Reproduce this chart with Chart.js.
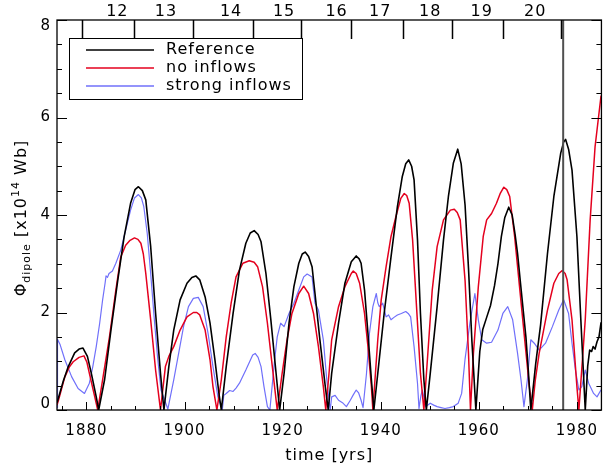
<!DOCTYPE html>
<html>
<head>
<meta charset="utf-8">
<script src="https://cdn.jsdelivr.net/npm/chart.js@4"></script>
<style>
  html, body { margin: 0; padding: 0; background: #fff; overflow: hidden; }
  canvas { display: block; }
</style>
</head>
<body>
<canvas id="fluxChart" width="608" height="472"></canvas>
<script>
// Reference run (black)
const refYears = [1874.0, 1874.3, 1875.3, 1876.3, 1877.6, 1878.5, 1879.3, 1880.2, 1881.0, 1882.0, 1882.5,
  1883.7, 1885.0, 1886.4, 1887.7, 1889.0, 1889.9, 1890.6, 1891.4, 1892.1, 1893.1, 1894.1, 1895.1, 1895.8,
  1896.8, 1897.8, 1899.1, 1900.5, 1901.5, 1902.3, 1903.1, 1904.2, 1905.2, 1906.2, 1907.0, 1907.5,
  1908.5, 1909.9, 1911.2, 1912.5, 1913.4, 1914.2, 1915.0, 1915.6, 1916.6, 1917.6, 1918.6, 1919.4,
  1920.3, 1921.3, 1922.3, 1923.3, 1924.0, 1924.6, 1925.3, 1926.0, 1926.6, 1927.6, 1928.7, 1929.3,
  1930.0, 1931.4, 1932.7, 1934.0, 1935.0, 1935.6, 1936.0, 1936.7, 1937.4, 1938.1, 1938.6,
  1939.4, 1940.7, 1942.1, 1943.4, 1944.4, 1945.1, 1945.7, 1946.3, 1946.8, 1947.5, 1948.1, 1948.8, 1949.3,
  1950.1, 1951.5, 1952.8, 1953.8, 1954.8, 1955.7, 1956.4, 1957.2, 1957.9, 1958.6, 1959.4,
  1960.2, 1960.8, 1961.6, 1962.4, 1963.2, 1963.9, 1964.6, 1965.3, 1966.1, 1966.8, 1967.4, 1967.9, 1968.5, 1969.1, 1969.6, 1970.1, 1970.6,
  1971.6, 1972.6, 1974.0, 1975.3, 1976.7, 1977.3, 1977.7, 1978.3, 1979.0, 1980.0, 1980.8, 1981.7,
  1982.2, 1982.6, 1983.0, 1983.3, 1983.7, 1984.1, 1984.5, 1984.9, 1985.0];
const refValues = [0.15, 0.25, 0.6, 0.89, 1.17, 1.25, 1.27, 1.1, 0.75, 0.27, 0,
  0.62, 1.64, 2.67, 3.56, 4.24, 4.52, 4.58, 4.5, 4.31, 3.35, 1.99, 0.75, 0,
  0.89, 1.64, 2.26, 2.6, 2.72, 2.75, 2.67, 2.32, 1.78, 1.03, 0.35, 0,
  0.89, 1.98, 2.87, 3.42, 3.63, 3.68, 3.6, 3.45, 2.8, 1.85, 0.82, 0,
  0.75, 1.78, 2.53, 3.01, 3.2, 3.24, 3.15, 2.94, 2.39, 1.44, 0.48, 0,
  0.75, 1.78, 2.6, 3.04, 3.16, 3.1, 3.01, 2.46, 1.57, 0.62, 0,
  0.75, 1.98, 3.14, 4.17, 4.79, 5.05, 5.13, 5.0, 4.72, 3.49, 1.98, 0.62, 0,
  0.75, 2.12, 3.49, 4.38, 5.06, 5.35, 5.05, 4.2, 2.9, 1.4, 0,
  1.2, 1.65, 1.9, 2.15, 2.55, 3.0, 3.56, 3.95, 4.16, 4.0, 3.6, 3.21, 2.6, 2.0, 1.5, 0.8, 0,
  0.95, 1.75, 3.21, 4.38, 5.27, 5.5, 5.55, 5.35, 4.92, 3.56, 1.85, 0,
  0.9, 1.23, 1.2, 1.3, 1.25, 1.4, 1.5, 1.78, 1.8];

// no inflows (red)
const noInflowYears = [1874.0, 1874.3, 1875.6, 1876.5, 1877.3, 1878.5, 1879.5, 1880.1, 1880.6, 1881.7, 1882.3,
  1883.3, 1884.7, 1886.0, 1887.0, 1888.0, 1888.9, 1889.8, 1890.5, 1891.1, 1891.6, 1892.1, 1893.1, 1894.1, 1895.1,
  1896.1, 1896.8, 1897.8, 1899.1, 1900.5, 1901.8, 1902.5, 1903.1, 1904.2, 1905.2, 1905.8, 1906.6,
  1907.5, 1908.5, 1909.5, 1910.5, 1911.9, 1913.2, 1914.2, 1914.9, 1915.9, 1916.9, 1917.9, 1918.9,
  1919.9, 1920.9, 1921.9, 1923.3, 1924.3, 1925.3, 1926.3, 1927.3, 1928.3, 1928.8,
  1929.5, 1930.0, 1931.4, 1932.7, 1934.0, 1934.4, 1935.0, 1935.7, 1936.7, 1937.4, 1938.1, 1938.4,
  1939.4, 1940.1, 1941.1, 1942.1, 1943.1, 1944.1, 1944.8, 1945.3, 1945.8, 1946.5, 1947.3, 1948.1, 1948.8,
  1949.8, 1950.5, 1951.5, 1952.8, 1954.2, 1955.0, 1955.6, 1956.2, 1957.2, 1957.9, 1958.3,
  1958.9, 1959.9, 1960.9, 1961.6, 1962.6, 1963.6, 1964.4, 1965.1, 1965.7, 1966.3, 1967.3, 1968.3, 1969.3, 1970.3, 1970.9,
  1971.5, 1972.3, 1974.0, 1975.3, 1976.3, 1977.0, 1977.6, 1978.0, 1979.0, 1980.0, 1980.4,
  1981.7, 1982.7, 1983.7, 1984.9, 1985.0];
const noInflowValues = [0.1, 0.2, 0.68, 0.88, 0.99, 1.08, 1.11, 0.98, 0.75, 0.27, 0,
  0.62, 1.5, 2.46, 3.14, 3.38, 3.48, 3.53, 3.5, 3.42, 3.2, 2.8, 1.85, 0.82, 0,
  0.89, 1.1, 1.3, 1.64, 1.91, 2.0, 2.0, 1.95, 1.64, 1.03, 0.48, 0,
  0.62, 1.5, 2.19, 2.73, 3.01, 3.06, 3.03, 2.94, 2.53, 1.78, 0.89, 0,
  0.75, 1.44, 1.98, 2.39, 2.54, 2.39, 1.98, 1.3, 0.48, 0,
  0.8, 1.44, 2.12, 2.53, 2.8, 2.85, 2.8, 2.6, 1.98, 1.3, 0.48, 0,
  1.44, 2.26, 2.94, 3.56, 3.97, 4.34, 4.44, 4.4, 4.24, 3.49, 2.12, 0.75, 0,
  1.44, 2.46, 3.35, 3.9, 4.1, 4.12, 4.05, 3.9, 2.65, 1.16, 0,
  1.16, 2.53, 3.56, 3.9, 4.03, 4.24, 4.45, 4.57, 4.52, 4.38, 3.56, 2.53, 1.5, 0.48, 0,
  0.6, 1.16, 2.05, 2.6, 2.8, 2.86, 2.8, 2.67, 1.85, 0.48, 0,
  1.85, 3.9, 5.4, 6.43, 6.45];

// strong inflows (blue)
const strongYears = [1874.0, 1874.1, 1874.6, 1875.6, 1877.0, 1878.3, 1879.6, 1880.6, 1881.3, 1882.0, 1882.7, 1883.3, 1883.8,
  1884.0, 1884.3, 1884.6, 1885.3, 1886.0, 1887.0, 1888.0, 1889.0, 1889.8, 1890.6, 1891.2, 1891.7, 1892.4, 1893.1,
  1893.8, 1894.5, 1895.2, 1896.6, 1897.8, 1898.8, 1899.8, 1900.8, 1901.8, 1902.8, 1903.8, 1904.8, 1905.8, 1906.8, 1907.7,
  1908.0, 1908.5, 1909.2, 1909.9, 1910.5, 1911.2, 1912.5, 1913.9, 1914.4, 1915.0, 1915.6, 1916.2, 1916.9, 1917.4,
  1918.3, 1918.9, 1919.6, 1920.3, 1921.3, 1922.3, 1923.3, 1924.3, 1925.0, 1926.0, 1926.6, 1927.3, 1928.3, 1929.0, 1929.7,
  1930.0, 1930.7, 1931.4, 1932.2, 1933.0, 1933.8, 1934.4, 1935.0, 1935.5, 1936.0, 1936.4,
  1937.1, 1937.7, 1938.4, 1939.1, 1939.4, 1939.7, 1940.4, 1941.1, 1941.6, 1942.1, 1942.7, 1943.4, 1944.2, 1945.1, 1945.6,
  1946.1, 1946.8, 1947.5, 1947.8, 1948.2, 1948.5, 1949.2, 1950.1, 1950.8, 1951.5, 1952.3, 1953.1, 1954.0, 1954.8,
  1955.8, 1956.5, 1957.2, 1958.2, 1959.2, 1959.9, 1960.6, 1961.6, 1962.6, 1963.9, 1964.9, 1965.9, 1966.9, 1967.9,
  1968.6, 1969.2, 1969.9, 1970.6, 1971.3, 1972.3, 1973.6, 1975.0, 1976.3, 1977.3, 1978.3, 1979.0, 1979.7,
  1980.4, 1981.0, 1981.7, 1982.4, 1983.4, 1984.1, 1984.9, 1985.0];
const strongValues = [0.05, 1.45, 1.35, 1.03, 0.68, 0.44, 0.34, 0.55, 0.89, 1.3, 1.78, 2.26, 2.6,
  2.75, 2.72, 2.8, 2.85, 3.01, 3.28, 3.69, 4.1, 4.35, 4.42, 4.35, 4.17, 3.62, 2.8,
  1.91, 1.09, 0.41, 0.02, 0.62, 1.16, 1.71, 2.12, 2.29, 2.31, 2.12, 1.57, 0.89, 0.27, 0,
  0.3, 0.34, 0.4, 0.38, 0.45, 0.55, 0.82, 1.13, 1.16, 1.08, 0.89, 0.48, 0.07, 0,
  0.96, 1.5, 1.78, 1.71, 1.98, 2.19, 2.46, 2.73, 2.79, 2.73, 2.19, 2.05, 1.44, 0.62, 0,
  0.27, 0.3, 0.2, 0.15, 0.07, 0.2, 0.31, 0.41, 0.35, 0.2, 0.05,
  0.75, 1.57, 2.12, 2.39, 2.2, 2.12, 2.19, 1.91, 1.95, 1.85, 1.9, 1.95, 1.98, 2.02, 1.98,
  1.91, 1.3, 0.55, 0.03, 0.3, 0.41, 0.07, 0.14, 0.1, 0.07, 0.05, 0.03, 0.05, 0.07,
  0.14, 0.34, 1.05, 1.8, 2.39, 1.85, 1.44, 1.37, 1.39, 1.64, 1.98, 2.12, 1.85, 1.16,
  0.62, 0.07, 0.62, 1.44, 1.37, 1.23, 1.37, 1.71, 2.05, 2.26, 1.98, 1.37, 0.82,
  0.41, 0.48, 0.82, 0.55, 0.34, 0.27, 0.41, 0.4];

// axes and annotations
const xTickValues = [1880, 1900, 1920, 1940, 1960, 1980];
const yTickValues = [0, 2, 4, 6, 8];
const cycleBoundaries = [1879.0, 1889.7, 1901.8, 1913.9, 1923.8, 1934.0, 1944.5, 1954.6, 1965.0, 1976.8];
const cycleLabels = ['12', '13', '14', '15', '16', '17', '18', '19', '20'];
const cycleLabelYears = [1886.3, 1896.2, 1909.5, 1920.3, 1931.0, 1939.9, 1950.1, 1960.6, 1971.5];
const markerYear = 1977.2;

const FONT = 'DejaVu Sans';

function toPoints(xs, ys) {
  return xs.map((t, i) => ({ x: t, y: ys[i] }));
}

const framePlugin = {
  id: 'frame',
  beforeDraw(chart) {
    chart.ctx.letterSpacing = '1px';
  },
  afterDraw(chart) {
    const { ctx, chartArea: a, scales: { x, y } } = chart;
    ctx.save();
    ctx.letterSpacing = '1px';
    ctx.strokeStyle = '#000';
    ctx.fillStyle = '#000';

    // vertical marker line
    const mx = x.getPixelForValue(markerYear);
    ctx.strokeStyle = '#505050';
    ctx.lineWidth = 2;
    ctx.beginPath();
    ctx.moveTo(mx, a.top);
    ctx.lineTo(mx, a.bottom);
    ctx.stroke();

    // frame
    ctx.strokeStyle = '#000';
    ctx.lineWidth = 1.3;
    ctx.strokeRect(a.left, a.top, a.right - a.left, a.bottom - a.top);

    // inward ticks, bottom axis
    ctx.lineWidth = 1;
    ctx.beginPath();
    for (let t = 1875; t <= 1985; t += 5) {
      const px = Math.round(x.getPixelForValue(t)) + 0.5;
      const len = t % 20 === 0 ? 8 : 4;
      ctx.moveTo(px, a.bottom);
      ctx.lineTo(px, a.bottom - len);
    }
    // left and right axes
    for (let v = 0; v <= 8; v += 0.5) {
      const py = Math.round(y.getPixelForValue(v)) + 0.5;
      const len = v % 2 === 0 ? 10 : 5;
      ctx.moveTo(a.left, py);
      ctx.lineTo(a.left + len, py);
      ctx.moveTo(a.right, py);
      ctx.lineTo(a.right - len, py);
    }
    ctx.stroke();

    // y tick labels, kept inside the frame height like the original
    ctx.font = '15px "' + FONT + '"';
    ctx.textAlign = 'right';
    ctx.textBaseline = 'middle';
    y.ticks.forEach(tk => {
      const py = Math.min(Math.max(y.getPixelForValue(tk.value), a.top + 6), a.bottom - 6);
      ctx.fillText(String(tk.value), a.left - 6, py);
    });

    // solar cycle ticks along the top
    ctx.lineWidth = 1.5;
    ctx.beginPath();
    cycleBoundaries.forEach(t => {
      const px = Math.round(x.getPixelForValue(t)) + 0.5;
      ctx.moveTo(px, a.top);
      ctx.lineTo(px, a.top + 19);
    });
    ctx.stroke();

    ctx.font = '16px "' + FONT + '"';
    ctx.textAlign = 'center';
    ctx.textBaseline = 'middle';
    cycleLabels.forEach((lab, i) => {
      ctx.fillText(lab, x.getPixelForValue(cycleLabelYears[i]), 12);
    });

    // legend box
    const lx = 69, ly = 38, lw = 233, lh = 61;
    ctx.fillStyle = '#fff';
    ctx.fillRect(lx, ly, lw, lh);
    ctx.strokeStyle = '#000';
    ctx.lineWidth = 1;
    ctx.strokeRect(lx + 0.5, ly + 0.5, lw, lh);
    ctx.textAlign = 'left';
    ctx.textBaseline = 'middle';
    chart.data.datasets.forEach((ds, i) => {
      const rowY = 50 + i * 18;
      ctx.strokeStyle = ds.borderColor;
      ctx.lineWidth = 1.5;
      ctx.beginPath();
      ctx.moveTo(86, rowY);
      ctx.lineTo(154, rowY);
      ctx.stroke();
      ctx.fillStyle = '#000';
      ctx.fillText(ds.label, 166, rowY);
    });

    // y axis title with sub/superscripts, rotated
    const parts = [
      { t: '\u03A6', size: 16, dy: 0 },
      { t: 'dipole', size: 11, dy: 4 },
      { t: ' [x10', size: 16, dy: 0 },
      { t: '14', size: 11, dy: -7 },
      { t: ' Wb]', size: 16, dy: 0 }
    ];
    let total = 0;
    parts.forEach(p => {
      ctx.font = p.size + 'px "' + FONT + '"';
      p.w = ctx.measureText(p.t).width;
      total += p.w;
    });
    ctx.translate(20, 218);
    ctx.rotate(-Math.PI / 2);
    ctx.textBaseline = 'alphabetic';
    ctx.fillStyle = '#000';
    let cx = -total / 2;
    parts.forEach(p => {
      ctx.font = p.size + 'px "' + FONT + '"';
      ctx.fillText(p.t, cx, 6 + p.dy);
      cx += p.w;
    });
    ctx.restore();
  }
};

const ctx = document.getElementById('fluxChart').getContext('2d');
new Chart(ctx, {
  type: 'line',
  data: {
    datasets: [
      {
        label: 'Reference',
        data: toPoints(refYears, refValues),
        borderColor: '#000000',
        borderWidth: 1.6
      },
      {
        label: 'no inflows',
        data: toPoints(noInflowYears, noInflowValues),
        borderColor: 'rgb(228, 0, 30)',
        borderWidth: 1.5
      },
      {
        label: 'strong inflows',
        data: toPoints(strongYears, strongValues),
        borderColor: 'rgb(112, 112, 250)',
        borderWidth: 1.2
      }
    ]
  },
  options: {
    responsive: false,
    animation: false,
    elements: {
      point: { radius: 0 },
      line: { tension: 0, borderJoinStyle: 'round' }
    },
    layout: { padding: { top: 20, left: 0, right: 0, bottom: 0 } },
    plugins: {
      legend: { display: false },
      tooltip: { enabled: false }
    },
    scales: {
      x: {
        type: 'linear',
        min: 1874,
        max: 1985,
        afterBuildTicks: s => { s.ticks = xTickValues.map(v => ({ value: v })); },
        afterFit: s => { s.height = 62; },
        grid: { display: false, drawTicks: false },
        border: { display: false },
        ticks: {
          padding: 12,
          color: '#000',
          maxRotation: 0,
          autoSkip: false,
          font: { family: FONT, size: 15 },
          callback: v => String(v)
        },
        title: {
          display: true,
          text: 'time [yrs]',
          color: '#000',
          font: { family: FONT, size: 16 },
          padding: { top: 0, bottom: 7 }
        }
      },
      y: {
        min: 0,
        max: 8,
        afterBuildTicks: s => { s.ticks = yTickValues.map(v => ({ value: v })); },
        afterFit: s => { s.width = 57; },
        grid: { display: false, drawTicks: false },
        border: { display: false },
        ticks: { display: false }
      }
    }
  },
  plugins: [framePlugin]
});
</script>
</body>
</html>
